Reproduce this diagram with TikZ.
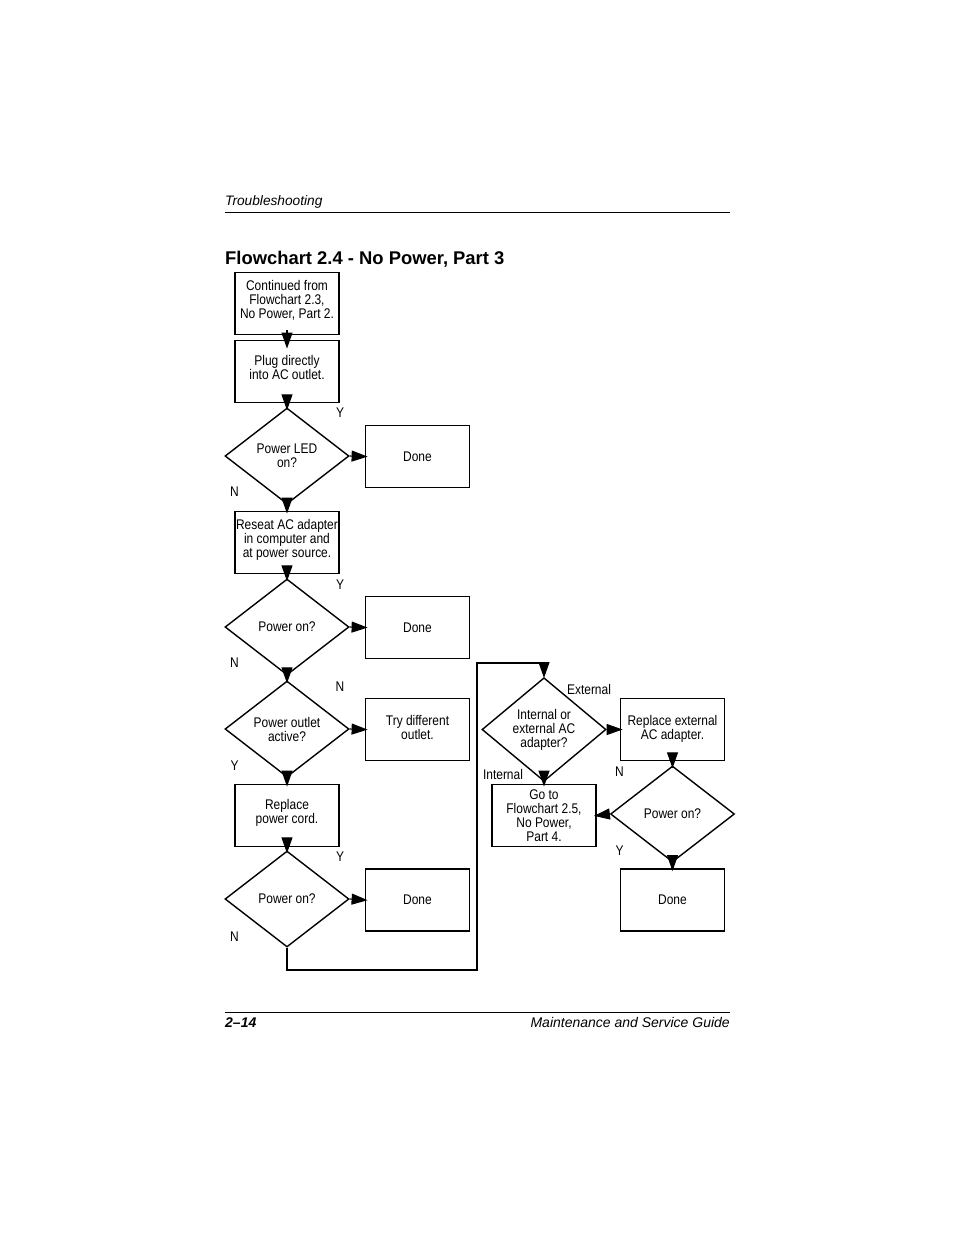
\documentclass[tikz,border=0pt]{standalone}
\usepackage{fontspec}
\setmainfont{Liberation Sans}
\newfontfamily\cond[FakeStretch=0.855]{Liberation Sans}
\usetikzlibrary{shapes.geometric,arrows.meta}
\newcommand\upfix{\\[-6pt]\mbox{}}
\newcommand\upfixs{\\[-10pt]\mbox{}}
\begin{document}
\begin{tikzpicture}[x=1pt,y=-1pt,
  txt/.style={font=\cond\fontsize{14}{14}\selectfont, align=center},
  box/.style={txt, draw, line width=1.8pt, minimum width=104pt, minimum height=62pt, inner sep=0pt},
  dia/.style={txt, draw, diamond, line width=1.4pt, minimum width=124pt, minimum height=96pt, inner sep=0pt},
  lbl/.style={font=\cond\fontsize{14}{14}\selectfont, inner sep=0pt},
  arr/.style={line width=1.1pt, -{Triangle[length=16pt,width=11pt]}, shorten >=-3pt},
  con/.style={line width=1.1pt}
]
\useasboundingbox (0,0) rectangle (954,1235);
% header / footer
\node[anchor=base west, font=\itshape\fontsize{13.7}{14}\selectfont, inner sep=0pt] (hdr) at (225,205) {Troubleshooting};
\draw[line width=0.9pt] (225,212) coordinate (hl) -- (730,212) coordinate (hr);
\node[anchor=base west, font=\bfseries\fontsize{18.4}{20}\selectfont, inner sep=0pt] (title) at (225,264) {Flowchart 2.4 - No Power, Part 3};
\draw[line width=0.9pt] (225,1012) coordinate (fl) -- (730,1012) coordinate (fr);
\node[anchor=base west, font=\bfseries\itshape\fontsize{14}{14}\selectfont, inner sep=0pt] (pg) at (225,1027) {2--14};
\node[anchor=base east, font=\itshape\fontsize{14}{14}\selectfont, inner sep=0pt] (guide) at (730,1027) {Maintenance and Service Guide};

% left column
\node[box] (b1) at (287,303.5) {Continued from\\Flowchart 2.3,\\No Power, Part 2.\upfix};
\node[box] (b2) at (287,371.5) {Plug directly\\into AC outlet.\upfix};
\node[dia] (d1) at (287,456) {Power LED\\on?};
\node[box] (done1) at (417.5,456.5) {Done};
\node[box] (b3) at (287,542.5) {Reseat AC adapter\\in computer and\\at power source.\upfix};
\node[dia] (d2) at (287,627) {Power on?};
\node[box] (done2) at (417.5,627.5) {Done};
\node[dia] (d3) at (287,729) {Power outlet\\active?};
\node[box] (try) at (417.5,729.5) {Try different\\outlet.\upfixs};
\node[box] (b4) at (287,815.5) {Replace\\power cord.\upfix};
\node[dia] (d4) at (287,899) {Power on?};
\node[box] (done3) at (417.5,900) {Done};

% right part
\node[dia] (d5) at (544,729.5) {Internal or\\external AC\\adapter?};
\node[box] (rep) at (672.5,729.5) {Replace external\\AC adapter.\upfixs};
\node[box] (goto) at (544,815.5) {Go to\\Flowchart 2.5,\\No Power,\\Part 4.};
\node[dia] (d6) at (672.5,814) {Power on?};
\node[box] (done4) at (672.5,900) {Done};

% labels
\node[lbl] (y1) at (340,413) {Y};
\node[lbl] (n1) at (234.5,492) {N};
\node[lbl] (y2) at (340,585) {Y};
\node[lbl] (n2) at (234.5,663) {N};
\node[lbl] (n3) at (340,687) {N};
\node[lbl] (y3) at (234.5,766) {Y};
\node[lbl] (y4) at (340,857) {Y};
\node[lbl] (n4) at (234.5,937) {N};
\node[lbl] (ext) at (589,689) {External};
\node[lbl] (int) at (503,774) {Internal};
\node[lbl] (n6) at (619.5,772) {N};
\node[lbl] (y6) at (619.5,851) {Y};

% connectors
\draw[arr, shorten <=5pt, shorten >=-9pt] (b1.south) -- (b2.north);
\draw[arr, shorten <=5pt] (b2.south) -- (d1.north);
\draw[arr] (d1.east) -- (done1.west);
\draw[arr] (d1.south) -- (b3.north);
\draw[arr, shorten <=5pt] (b3.south) -- (d2.north);
\draw[arr] (d2.east) -- (done2.west);
\draw[arr] (d2.south) -- (d3.north);
\draw[arr] (d3.east) -- (try.west);
\draw[arr] (d3.south) -- (b4.north);
\draw[arr, shorten <=5pt] (b4.south) -- (d4.north);
\draw[arr] (d4.east) -- (done3.west);
\coordinate (c1) at (287,970);
\coordinate (c2) at (477,970);
\coordinate (c3) at (477,663);
\coordinate (c4) at (544,663);
\draw[arr, shorten >=-1pt] (d4.south) -- (c1) -- (c2) -- (c3) -- (c4) -- (d5.north);
\draw[arr] (d5.east) -- (rep.west);
\draw[arr] (d5.south) -- (goto.north);
\draw[arr, shorten <=5pt] (rep.south) -- (d6.north);
\draw[arr] (d6.west) -- (goto.east);
\draw[arr] (d6.south) -- (done4.north);
\end{tikzpicture}
\end{document}
